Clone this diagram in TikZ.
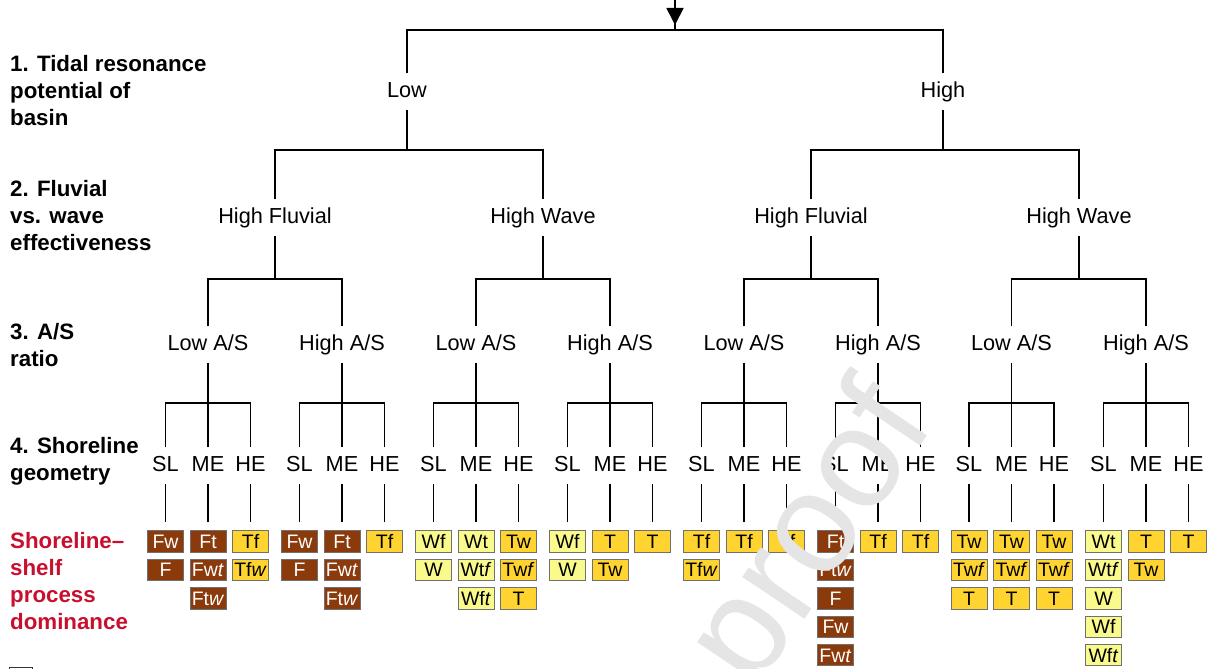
\documentclass[tikz,border=0pt]{standalone}
\usepackage{fontspec}
\setmainfont{Liberation Sans}
\usetikzlibrary{arrows.meta}
\definecolor{fbrown}{RGB}{139,58,12}
\definecolor{tgold}{RGB}{255,212,48}
\definecolor{wyel}{RGB}{250,250,140}
\definecolor{bordergray}{RGB}{112,112,112}
\definecolor{lblred}{RGB}{200,16,46}
\definecolor{wmark}{RGB}{229,229,229}
\begin{document}
\begin{tikzpicture}[x=1pt,y=-1pt,
  tree/.style={line width=1.7pt, line join=miter},
  lvl/.style={font=\fontsize{21.7}{26}\selectfont, inner sep=0pt, minimum height=36pt, text height=16pt, text depth=5pt},
  hdr/.style={font=\bfseries\fontsize{22.3}{27}\selectfont, align=left, anchor=base west, inner sep=0pt},
  pbox/.style={draw=bordergray, line width=0.9pt, minimum width=36pt, minimum height=21.5pt, inner sep=0pt, font=\fontsize{19.5}{19.5}\selectfont, text height=14pt, text depth=0pt}]
\useasboundingbox (0,0) rectangle (1207,669);

% left headings (anchored at the baseline of their last line)
\node[hdr] (q1) at (10,125) {1. Tidal resonance\\potential of\\basin};
\node[hdr] (q2) at (10,250) {2. Fluvial\\vs. wave\\effectiveness};
\node[hdr] (q3) at (10,366) {3. A/S\\ratio};
\node[hdr] (q4) at (10,480) {4. Shoreline\\geometry};
\node[hdr, text=lblred] (q5) at (10,629) {Shoreline–\\shelf\\process\\dominance};

% level 1
\node[lvl] (low) at (407,91.5) {Low};
\node[lvl] (high) at (943,91.5) {High};
\coordinate (entry) at (675,0);
\draw[tree] (entry) -- (entry |- 0,30);
\draw[tree,-{Triangle[width=17pt,length=17pt]}] (entry) -- (entry |- 0,25);
\draw[tree] (low.north) -- (low.north |- 0,30) -- (high.north |- 0,30) -- (high.north);

% level 2
\node[lvl] (h1) at (275,217.5) {High Fluvial};
\node[lvl] (h2) at (543,217.5) {High Wave};
\node[lvl] (h3) at (811,217.5) {High Fluvial};
\node[lvl] (h4) at (1079,217.5) {High Wave};
\draw[tree] (low.south) -- (low.south |- 0,150);
\draw[tree] (h1.north) -- (h1.north |- 0,150) -- (h2.north |- 0,150) -- (h2.north);
\draw[tree] (high.south) -- (high.south |- 0,150);
\draw[tree] (h3.north) -- (h3.north |- 0,150) -- (h4.north |- 0,150) -- (h4.north);

% level 3
\node[lvl] (a1) at (208,344.5) {Low A/S};
\node[lvl] (a2) at (342,344.5) {High A/S};
\node[lvl] (a3) at (476,344.5) {Low A/S};
\node[lvl] (a4) at (610,344.5) {High A/S};
\node[lvl] (a5) at (744,344.5) {Low A/S};
\node[lvl] (a6) at (878,344.5) {High A/S};
\node[lvl] (a7) at (1011.5,344.5) {Low A/S};
\node[lvl] (a8) at (1146,344.5) {High A/S};
\foreach \p/\l/\r in {1/1/2,2/3/4,3/5/6,4/7/8}{
  \draw[tree] (h\p.south) -- (h\p.south |- 0,279);
  \draw[tree] (a\l.north) -- (a\l.north |- 0,279) -- (a\r.north |- 0,279) -- (a\r.north);
}

% level 4
\foreach \g/\c in {1/208,2/342,3/476,4/610,5/744,6/878,7/1011.5,8/1146}{
  \foreach \j/\lab in {1/SL,2/ME,3/HE}{
    \pgfmathtruncatemacro\k{3*(\g-1)+\j}
    \node[lvl] (s\k) at ({\c+42.5*(\j-2)},465.5) {\lab};
  }
  \pgfmathtruncatemacro\ka{3*(\g-1)+1}
  \pgfmathtruncatemacro\kb{3*(\g-1)+2}
  \pgfmathtruncatemacro\kc{3*(\g-1)+3}
  \draw[tree] (a\g.south) -- (s\kb.north);
  \draw[tree] (s\ka.north) -- (s\ka.north |- 0,403) -- (s\kc.north |- 0,403) -- (s\kc.north);
}

% process dominance boxes
\foreach \k/\items in {
 1/{fbrown/white/Fw, fbrown/white/F},
 2/{fbrown/white/Ft, fbrown/white/Fw\textit{t}, fbrown/white/Ft\textit{w}},
 3/{tgold/black/Tf, tgold/black/Tf\textit{w}},
 4/{fbrown/white/Fw, fbrown/white/F},
 5/{fbrown/white/Ft, fbrown/white/Fw\textit{t}, fbrown/white/Ft\textit{w}},
 6/{tgold/black/Tf},
 7/{wyel/black/Wf, wyel/black/W},
 8/{wyel/black/Wt, wyel/black/Wt\textit{f}, wyel/black/Wf\textit{t}},
 9/{tgold/black/Tw, tgold/black/Tw\textit{f}, tgold/black/T},
 10/{wyel/black/Wf, wyel/black/W},
 11/{tgold/black/T, tgold/black/Tw},
 12/{tgold/black/T},
 13/{tgold/black/Tf, tgold/black/Tf\textit{w}},
 14/{tgold/black/Tf},
 15/{tgold/black/Tf},
 16/{fbrown/white/Ft, fbrown/white/Ft\textit{w}, fbrown/white/F, fbrown/white/Fw, fbrown/white/Fw\textit{t}},
 17/{tgold/black/Tf},
 18/{tgold/black/Tf},
 19/{tgold/black/Tw, tgold/black/Tw\textit{f}, tgold/black/T},
 20/{tgold/black/Tw, tgold/black/Tw\textit{f}, tgold/black/T},
 21/{tgold/black/Tw, tgold/black/Tw\textit{f}, tgold/black/T},
 22/{wyel/black/Wt, wyel/black/Wt\textit{f}, wyel/black/W, wyel/black/Wf, wyel/black/Wf\textit{t}},
 23/{tgold/black/T, tgold/black/Tw},
 24/{tgold/black/T}}{
  \foreach[count=\r] \fc/\tc/\tx in \items {
    \node[pbox, fill=\fc, text=\tc, yshift={-28.4*(\r-1)}] (b\k-\r) at (s\k |- 0,541.5) {\tx};
  }
  \draw[tree, shorten >=8pt] (s\k.south) -- (b\k-1.north);
}

% watermark and cut-off legend box
\begin{scope}
\clip (0,0) rectangle (1207,669);
\draw[line width=1pt, black!80] (9,667) rectangle (32,690);
\node[rotate=56, anchor=base east, text=wmark, font=\fontsize{142}{142}\selectfont, inner sep=0pt] (wm) at (936,424) {-proof};
\end{scope}
\end{tikzpicture}
\end{document}
